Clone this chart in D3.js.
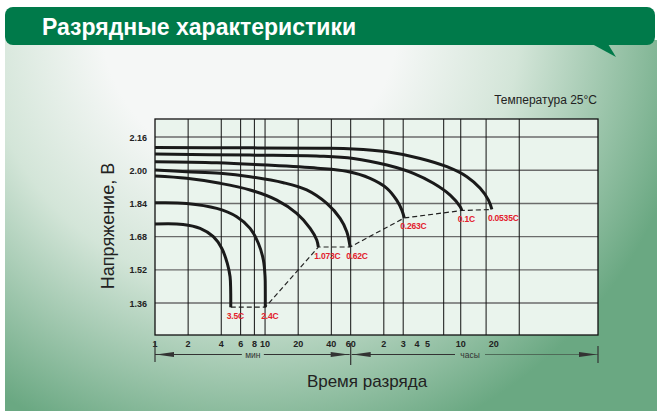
<!DOCTYPE html>
<html>
<head>
<meta charset="utf-8">
<script src="https://cdn.jsdelivr.net/npm/d3@7/dist/d3.min.js"></script>
<style>
body { margin: 0; background: #fff; }
svg text { font-family: "Liberation Sans", Arial, sans-serif; }
</style>
</head>
<body>
<script>

// discharge rates and curves: [minutes, volts]
var rateLabels = ["3.5C", "2.4C", "1.073C", "0.62C", "0.263C", "0.1C", "0.0535C"];

var c35   = [[1,1.741],[1.8,1.739],[2.57,1.72],[3.39,1.68],[4.04,1.624],[4.54,1.551],[4.81,1.487],[4.87,1.423],[4.88,1.34]];
var c24   = [[1,1.843],[1.94,1.84],[3.64,1.816],[5.53,1.776],[7.31,1.72],[8.69,1.648],[9.66,1.567],[10,1.487],[10.05,1.423],[10.05,1.34]];
var c1073 = [[1,1.972],[1.94,1.961],[3.9,1.937],[7.31,1.905],[12.8,1.856],[19.4,1.792],[25.7,1.72],[29.5,1.664],[30.5,1.63]];
var c062  = [[1,2.001],[1.94,1.993],[3.9,1.985],[7.31,1.969],[14.7,1.94],[23.9,1.905],[36.4,1.84],[48.1,1.768],[55.3,1.704],[59.3,1.63]];
var c0263 = [[1,2.041],[3.64,2.036],[10.4,2.025],[30,2.01],[55,1.995],[90,1.961],[128,1.913],[157,1.856],[175,1.808],[184,1.77]];
var c01   = [[1,2.078],[7.3,2.073],[31.6,2.068],[63.5,2.057],[128,2.025],[223,1.985],[339,1.937],[481,1.88],[593,1.824],[614,1.806]];
var c0535 = [[1,2.11],[7.3,2.108],[31.6,2.106],[63.5,2.103],[128,2.089],[257,2.057],[449,2.017],[682,1.969],[901,1.913],[1072,1.856],[1151,1.811]];

var curves = [c35, c24, c1073, c062, c0263, c01, c0535];

var voltTicks   = [1.36, 1.52, 1.68, 1.84, 2.00, 2.16];
var minuteTicks = [1, 2, 4, 6, 8, 10, 20, 40, 60];
var hourTicks   = [2, 3, 4, 5, 10, 20];
var gridMinutes = [2, 4, 6, 8, 10, 20, 40, 60];
var gridHours   = [2, 3, 7, 10, 17, 34];

var w = 661, h = 420;
var plotL = 155, plotR = 598, plotT = 119, plotB = 335;

var x = d3.scaleLog().domain([1, 10600]).range([plotL, plotR]);
var y = d3.scaleLinear().domain([1.206, 2.247]).range([plotB, plotT]);

var svg = d3.select("body").append("svg")
    .attr("width", w)
    .attr("height", h);

var defs = svg.append("defs");
var grad = defs.append("radialGradient")
    .attr("id", "panelGrad")
    .attr("gradientUnits", "userSpaceOnUse")
    .attr("cx", 250).attr("cy", 20).attr("r", 450);
grad.append("stop").attr("offset", 0.33).attr("stop-color", "#f5f7f6");
grad.append("stop").attr("offset", 0.6).attr("stop-color", "#d3e5d8");
grad.append("stop").attr("offset", 1).attr("stop-color", "#6aa882");

// background panel
svg.append("rect")
    .attr("x", 5).attr("y", 40)
    .attr("width", 652).attr("height", 371)
    .attr("fill", "url(#panelGrad)");

// header band
svg.append("path")
    .attr("d", "M592,44 L608,44 L616,57 Z")
    .attr("fill", "#007a4a");
svg.append("rect")
    .attr("x", 5).attr("y", 7)
    .attr("width", 650).attr("height", 38)
    .attr("rx", 8)
    .attr("fill", "#007a4a");
svg.append("text")
    .attr("x", 42).attr("y", 35)
    .attr("fill", "#fff")
    .style("font-size", "23px")
    .style("font-weight", "bold")
    .text("Разрядные характеристики");

svg.append("text")
    .attr("x", 597).attr("y", 104)
    .attr("text-anchor", "end")
    .attr("fill", "#222")
    .style("font-size", "12px")
    .text("Температура 25°C");

// plot area
svg.append("rect")
    .attr("x", plotL).attr("y", plotT)
    .attr("width", plotR - plotL).attr("height", plotB - plotT)
    .attr("fill", "#eaf4ed");

svg.selectAll("line.hgrid")
    .data(voltTicks)
    .enter()
    .append("line")
    .attr("class", "hgrid")
    .attr("x1", plotL).attr("x2", plotR)
    .attr("y1", function(d) { return y(d); })
    .attr("y2", function(d) { return y(d); })
    .style("stroke", "#6b6b6b")
    .style("stroke-width", 1.4);

var vgrid = gridMinutes.concat(gridHours.map(function(d) { return d * 60; }));
svg.selectAll("line.vgrid")
    .data(vgrid)
    .enter()
    .append("line")
    .attr("class", "vgrid")
    .attr("y1", plotT).attr("y2", plotB)
    .attr("x1", function(d) { return x(d); })
    .attr("x2", function(d) { return x(d); })
    .style("stroke", "#111")
    .style("stroke-width", 1);

svg.append("rect")
    .attr("x", plotL).attr("y", plotT)
    .attr("width", plotR - plotL).attr("height", plotB - plotT)
    .attr("fill", "none")
    .style("stroke", "#111")
    .style("stroke-width", 1.3);

// y tick labels
svg.selectAll("text.ylab")
    .data(voltTicks)
    .enter()
    .append("text")
    .attr("class", "ylab")
    .attr("x", 147)
    .attr("y", function(d) { return y(d) + 3.5; })
    .attr("text-anchor", "end")
    .attr("fill", "#222")
    .style("font-size", "9px")
    .style("font-weight", "bold")
    .text(d3.format(".2f"));

// x tick labels
svg.selectAll("text.xmin")
    .data(minuteTicks)
    .enter()
    .append("text")
    .attr("class", "xmin")
    .attr("x", function(d) { return x(d); })
    .attr("y", 347)
    .attr("text-anchor", "middle")
    .attr("fill", "#222")
    .style("font-size", "9px")
    .style("font-weight", "bold")
    .text(function(d) { return d; });

svg.selectAll("text.xhour")
    .data(hourTicks)
    .enter()
    .append("text")
    .attr("class", "xhour")
    .attr("x", function(d) { return x(d * 60); })
    .attr("y", 347)
    .attr("text-anchor", "middle")
    .attr("fill", "#222")
    .style("font-size", "9px")
    .style("font-weight", "bold")
    .text(function(d) { return d; });

// min / hours bracket with arrows
var ay = 354.5;
var mid = x(60);
var arrowRow = svg.append("g").style("stroke", "#333").style("fill", "#333");

function hline(x1, x2, col) {
  arrowRow.append("line")
      .attr("x1", x1).attr("x2", x2)
      .attr("y1", ay).attr("y2", ay)
      .style("stroke", col || "#333")
      .style("stroke-width", 1);
}
function arrow(tip, dir) {
  arrowRow.append("path")
      .attr("d", "M" + tip + "," + ay + " L" + (tip + dir * 18) + "," + (ay - 2.5) +
                 " L" + (tip + dir * 18) + "," + (ay + 2.5) + " Z")
      .style("stroke", "none");
}
function vbar(xx, y1, y2) {
  arrowRow.append("line")
      .attr("x1", xx).attr("x2", xx)
      .attr("y1", y1).attr("y2", y2)
      .style("stroke-width", 1.2);
}

var minMid = (plotL + mid) / 2, hourMid = 470;
hline(plotL, minMid - 11);
hline(minMid + 11, mid - 1);
hline(mid + 1, hourMid - 15);
hline(hourMid + 15, plotR, "#4f6b58");
arrow(plotL + 1, 1);
arrow(mid - 2, -1);
arrow(mid + 2, 1);
arrow(plotR - 1, -1);
vbar(plotL, 342, 362);
vbar(mid, 343, 365);
vbar(plotR, 346, 363);

svg.append("text")
    .attr("x", minMid).attr("y", ay + 3)
    .attr("text-anchor", "middle")
    .attr("fill", "#333")
    .style("font-size", "8.5px")
    .text("мин");
svg.append("text")
    .attr("x", hourMid).attr("y", ay + 3)
    .attr("text-anchor", "middle")
    .attr("fill", "#333")
    .style("font-size", "8.5px")
    .text("часы");

// axis titles
svg.append("text")
    .attr("x", 367).attr("y", 387)
    .attr("text-anchor", "middle")
    .attr("fill", "#222")
    .style("font-size", "17px")
    .text("Время разряда");

svg.append("text")
    .attr("transform", "translate(114,226) rotate(-90)")
    .attr("text-anchor", "middle")
    .attr("fill", "#222")
    .style("font-size", "18px")
    .text("Напряжение, В");

// end-voltage dashed line
var ends = curves.map(function(c) { return c[c.length - 1]; });
var line = d3.line()
    .x(function(d) { return x(d[0]); })
    .y(function(d) { return y(d[1]); });

svg.append("path")
    .attr("d", line(ends))
    .attr("fill", "none")
    .style("stroke", "#222")
    .style("stroke-width", 1.2)
    .style("stroke-dasharray", "5,3");

// discharge curves
var curveLine = d3.line()
    .x(function(d) { return x(d[0]); })
    .y(function(d) { return y(d[1]); })
    .curve(d3.curveCatmullRom.alpha(0.5));

svg.selectAll("path.curve")
    .data(curves)
    .enter()
    .append("path")
    .attr("class", "curve")
    .attr("d", curveLine)
    .attr("fill", "none")
    .style("stroke", "#1a1a1a")
    .style("stroke-width", 3);

svg.selectAll("text.rate")
    .data(ends)
    .enter()
    .append("text")
    .attr("class", "rate")
    .attr("x", function(d) { return x(d[0]) - 4; })
    .attr("y", function(d) { return y(d[1]) + 11.5; })
    .attr("fill", "#e3202c")
    .style("font-size", "8.5px")
    .style("font-weight", "bold")
    .style("letter-spacing", "-0.2px")
    .text(function(d, i) { return rateLabels[i]; });

</script>
</body>
</html>
